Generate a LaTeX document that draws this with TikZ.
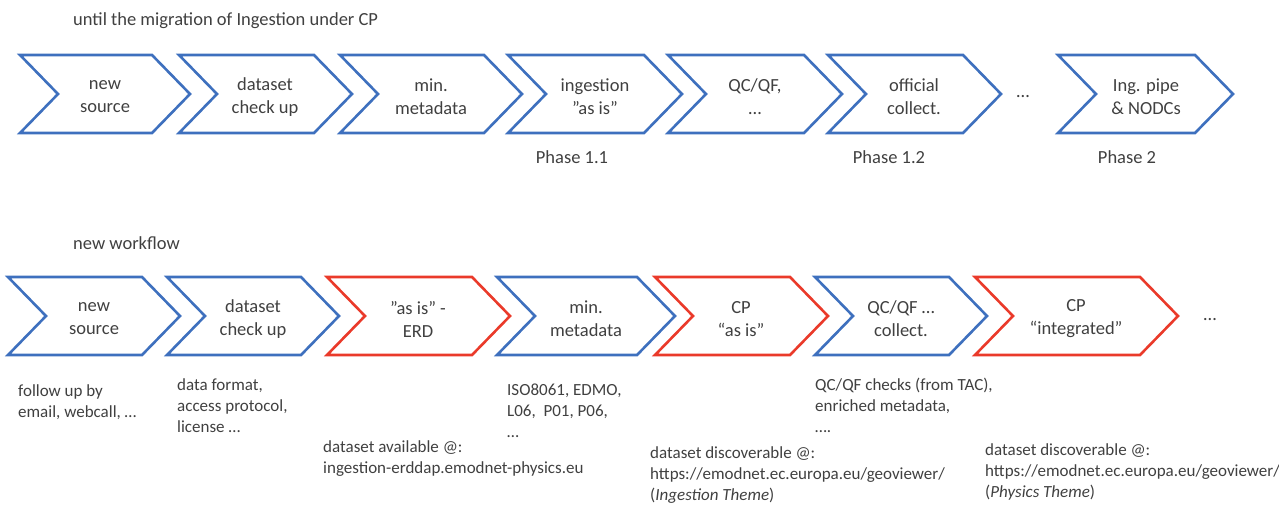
\documentclass[tikz,border=0pt]{standalone}
\usepackage{fontspec}
\setmainfont{Carlito}
\definecolor{flowblue}{RGB}{62,112,190}
\definecolor{flowred}{RGB}{234,58,42}
\definecolor{textgray}{RGB}{64,64,64}

\tikzset{
  bluechev/.style={draw=flowblue, line width=2.6pt},
  redchev/.style={draw=flowred, line width=2.6pt},
  chevtext/.style={align=center, text=textgray, inner sep=0pt, font=\fontsize{18.5}{23}\selectfont},
  notetext/.style={align=left, anchor=north west, inner sep=0pt, text=textgray, font=\fontsize{17}{21}\selectfont},
  headtext/.style={anchor=base west, inner sep=0pt, text=textgray, font=\fontsize{18.5}{23}\selectfont}
}

\begin{document}
\begin{tikzpicture}[x=1pt, y=-1pt]
\useasboundingbox (0,0) rectangle (1279,504);

% upper row: until the migration
\node[headtext] (headold) at (73,25) {until the migration of Ingestion under CP};

% new source
\begin{scope}[shift={(20,55)}]
\draw[bluechev] (0,0) -- (132,0) -- (170,39) -- (132,78) -- (0,78) -- (38,39) -- cycle;
\node[chevtext] (oldsource) at (85,42) {new\\source};
\end{scope}

% dataset check up
\begin{scope}[shift={(179,55)}]
\draw[bluechev] (0,0) -- (135,0) -- (173,39) -- (135,78) -- (0,78) -- (38,39) -- cycle;
\node[chevtext] (oldcheck) at (86,42) {dataset\\check up};
\end{scope}

% min. metadata
\begin{scope}[shift={(340,55)}]
\draw[bluechev] (0,0) -- (144,0) -- (182,39) -- (144,78) -- (0,78) -- (38,39) -- cycle;
\node[chevtext] (oldmeta) at (91,42) {min.\\metadata};
\end{scope}

% ingestion as is
\begin{scope}[shift={(508,55)}]
\draw[bluechev] (0,0) -- (136,0) -- (174,39) -- (136,78) -- (0,78) -- (38,39) -- cycle;
\node[chevtext] (oldingest) at (87,42) {ingestion\\”as is”};
\end{scope}

% QC/QF
\begin{scope}[shift={(668,55)}]
\draw[bluechev] (0,0) -- (136,0) -- (174,39) -- (136,78) -- (0,78) -- (38,39) -- cycle;
\node[chevtext] (oldqc) at (87,42) {QC/QF,\\…};
\end{scope}

% official collect.
\begin{scope}[shift={(828,55)}]
\draw[bluechev] (0,0) -- (135,0) -- (173,39) -- (135,78) -- (0,78) -- (38,39) -- cycle;
\node[chevtext] (oldcollect) at (86,42) {official\\collect.};
\end{scope}

\node[chevtext] (olddots) at (1023,97) {…};

% Ing. pipe & NODCs
\begin{scope}[shift={(1058,55)}]
\draw[bluechev] (0,0) -- (137,0) -- (175,39) -- (137,78) -- (0,78) -- (38,39) -- cycle;
\node[chevtext] (oldpipe) at (88,42) {Ing. pipe\\\& NODCs};
\end{scope}

\node[chevtext] (phaseA) at (572,157) {Phase 1.1};
\node[chevtext] (phaseB) at (889,157) {Phase 1.2};
\node[chevtext] (phaseC) at (1127,157) {Phase 2};

% lower row: new workflow
\node[headtext] (headnew) at (73,249) {new workflow};

% new source
\begin{scope}[shift={(8,277)}]
\draw[bluechev] (0,0) -- (134,0) -- (172,39) -- (134,78) -- (0,78) -- (38,39) -- cycle;
\node[chevtext] (newsource) at (86,42) {new\\source};
\end{scope}

% dataset check up
\begin{scope}[shift={(167,277)}]
\draw[bluechev] (0,0) -- (134,0) -- (172,39) -- (134,78) -- (0,78) -- (38,39) -- cycle;
\node[chevtext] (newcheck) at (86,42) {dataset\\check up};
\end{scope}

% as is - ERD
\begin{scope}[shift={(327,277)}]
\draw[redchev] (0,0) -- (145,0) -- (183,39) -- (145,78) -- (0,78) -- (38,39) -- cycle;
\node[chevtext] (newerd) at (91,42) {”as is” -\\ERD};
\end{scope}

% min. metadata
\begin{scope}[shift={(497,277)}]
\draw[bluechev] (0,0) -- (140,0) -- (178,39) -- (140,78) -- (0,78) -- (38,39) -- cycle;
\node[chevtext] (newmeta) at (89,42) {min.\\metadata};
\end{scope}

% CP as is
\begin{scope}[shift={(655,277)}]
\draw[redchev] (0,0) -- (135,0) -- (173,39) -- (135,78) -- (0,78) -- (38,39) -- cycle;
\node[chevtext] (newcpasis) at (86,42) {CP\\“as is”};
\end{scope}

% QC/QF collect.
\begin{scope}[shift={(815,277)}]
\draw[bluechev] (0,0) -- (134,0) -- (172,39) -- (134,78) -- (0,78) -- (38,39) -- cycle;
\node[chevtext] (newqc) at (86,42) {QC/QF …\\collect.};
\end{scope}

% CP integrated
\begin{scope}[shift={(975,277)}]
\draw[redchev] (0,0) -- (165,0) -- (203,39) -- (165,78) -- (0,78) -- (38,39) -- cycle;
\node[chevtext] (newcpint) at (101,42) {CP\\“integrated”};
\end{scope}

\node[chevtext] (newdots) at (1210,320) {…};

% notes under the new workflow
\node[notetext] (notesource) at (18,384) {follow up by\\email, webcall, …};
\node[notetext] (notecheck) at (177,378) {data format,\\access protocol,\\license …};
\node[notetext] (notemeta) at (507,384) {ISO8061, EDMO,\\L06,\ \ P01, P06,\\…};
\node[notetext] (noteerd) at (323,440) {dataset available @:\\ingestion-erddap.emodnet-physics.eu};
\node[notetext] (noteqc) at (815,378) {QC/QF checks (from TAC),\\enriched metadata,\\….};
\node[notetext] (notecpasis) at (650,446) {dataset discoverable @:\\https://emodnet.ec.europa.eu/geoviewer/\\(\textit{Ingestion Theme})};
\node[notetext] (notecpint) at (985,443) {dataset discoverable @:\\https://emodnet.ec.europa.eu/geoviewer/\\(\textit{Physics Theme})};

\end{tikzpicture}
\end{document}
